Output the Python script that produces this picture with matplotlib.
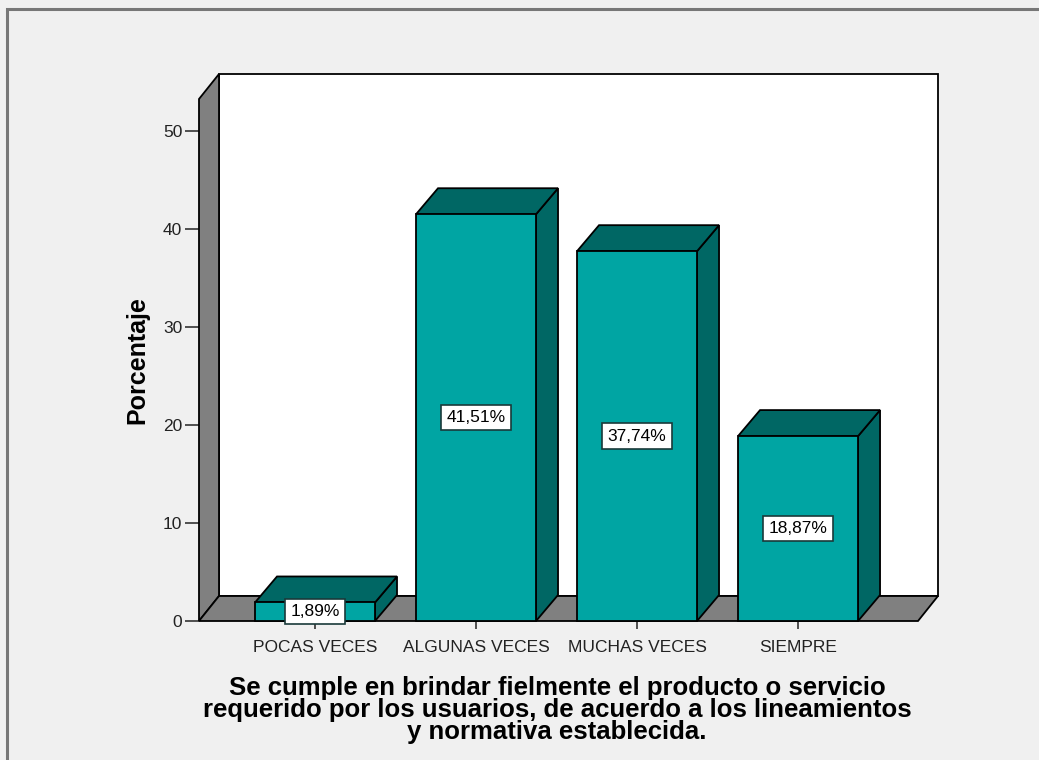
import matplotlib
matplotlib.use("Agg")
import matplotlib.pyplot as plt
from matplotlib.patches import Polygon, Rectangle

plt.rcParams['font.family'] = ['Liberation Sans', 'DejaVu Sans']

categories = ["POCAS VECES", "ALGUNAS VECES", "MUCHAS VECES", "SIEMPRE"]
percentages = [1.89, 41.51, 37.74, 18.87]
value_labels = ["1,89%", "41,51%", "37,74%", "18,87%"]
y_ticks = [0, 10, 20, 30, 40, 50]
x_title = ("Se cumple en brindar fielmente el producto o servicio\n"
           "requerido por los usuarios, de acuerdo a los lineamientos\n"
           "y normativa establecida.")
y_title = "Porcentaje"

W, H, DPI = 1039, 760, 100
BG = "#f0f0f0"
FRONT = "#00a5a3"
DARK = "#006764"
WALL = "#808080"

fig = plt.figure(figsize=(W / DPI, H / DPI), dpi=DPI, facecolor=BG)

# outer chart frame
frame = Rectangle((7 / W, -0.1), 1.2, (H - 9) / H + 0.1, transform=fig.transFigure,
                  facecolor="none", edgecolor="#777777", linewidth=2.2)
fig.patches.append(frame)

# front plane of the 3D box, in pixels
left_px, right_px, bottom_px, top_px = 199, 918, 621, 99
ax = fig.add_axes([left_px / W, 1 - bottom_px / H,
                   (right_px - left_px) / W, (bottom_px - top_px) / H])
ax.patch.set_visible(False)

x0, x1 = -0.7205, 3.745
y_top = 53.27
ax.set_xlim(x0, x1)
ax.set_ylim(0, y_top)
for s in ax.spines.values():
    s.set_visible(False)

# depth offsets converted from pixels to data units
px_x = (x1 - x0) / (right_px - left_px)
px_y = y_top / (bottom_px - top_px)
wdx, wdy = 20 * px_x, 25 * px_y   # walls / floor
bdx, bdy = 22 * px_x, 26 * px_y   # bars

edge = dict(edgecolor="black", linewidth=1.3, clip_on=False)

# back wall
ax.add_patch(Polygon([(x0 + wdx, wdy), (x1 + wdx, wdy), (x1 + wdx, y_top + wdy),
                      (x0 + wdx, y_top + wdy)], facecolor="white", zorder=1, **edge))
# left wall
ax.add_patch(Polygon([(x0, 0), (x0, y_top), (x0 + wdx, y_top + wdy), (x0 + wdx, wdy)],
                     facecolor=WALL, zorder=2, **edge))
# floor
ax.add_patch(Polygon([(x0, 0), (x1, 0), (x1 + wdx, wdy), (x0 + wdx, wdy)],
                     facecolor=WALL, zorder=2, **edge))

bar_w = 120 * px_x
for i, (v, lab) in enumerate(zip(percentages, value_labels)):
    l, r = i - bar_w / 2, i + bar_w / 2
    # right side face
    ax.add_patch(Polygon([(r, 0), (r + bdx, bdy), (r + bdx, v + bdy), (r, v)],
                         facecolor=DARK, zorder=3, **edge))
    # top face
    ax.add_patch(Polygon([(l, v), (r, v), (r + bdx, v + bdy), (l + bdx, v + bdy)],
                         facecolor=DARK, zorder=3, **edge))
    # front face
    ax.add_patch(Rectangle((l, 0), bar_w, v, facecolor=FRONT, zorder=4, **edge))
    ax.text(i, v / 2, lab, ha="center", va="center",
            fontsize=12.5, zorder=6,
            bbox=dict(boxstyle="square,pad=0.3", facecolor="white",
                      edgecolor="#1a3a3a", linewidth=1.2))

ax.set_yticks(y_ticks)
ax.set_yticklabels([str(t) for t in y_ticks], fontsize=12.5, color="#222222")
ax.set_xticks(range(len(categories)))
ax.set_xticklabels(categories, fontsize=12.5, color="#222222")
ax.tick_params(axis="y", length=10, width=1.2, pad=2, color="#333333")
ax.tick_params(axis="x", length=6, width=1.2, pad=8, color="#333333")

ax.set_ylabel(y_title, fontsize=18, fontweight="bold")
ax.yaxis.set_label_coords(-(left_px - 137) / (right_px - left_px), 0.5)
ax.yaxis.label.set_va("center")

ax.set_xlabel(x_title, fontsize=18.5, fontweight="bold", linespacing=0.9)
ax.xaxis.set_label_coords((557 - left_px) / (right_px - left_px),
                          -(676 - bottom_px) / (bottom_px - top_px))
ax.xaxis.label.set_va("top")

fig.savefig("out.png", dpi=DPI, facecolor=BG)
